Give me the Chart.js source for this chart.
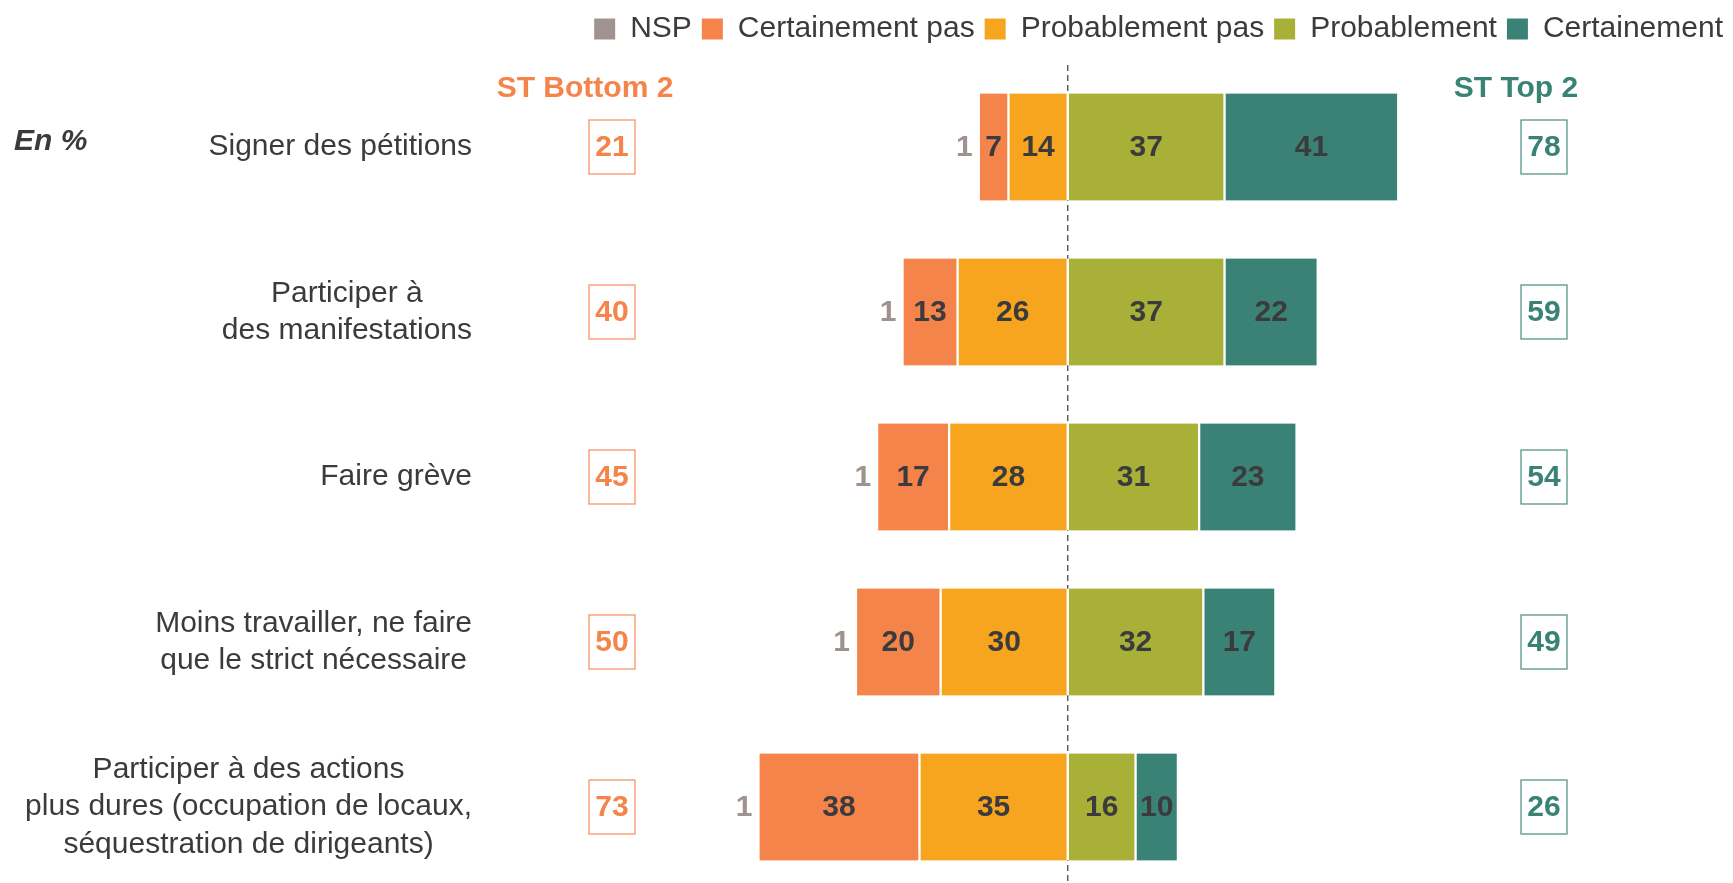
<!DOCTYPE html>
<html>
<head>
<meta charset="utf-8">
<script src="https://cdn.jsdelivr.net/npm/chart.js@4.4.1/dist/chart.umd.min.js"></script>
<style>
	body { margin: 0; background: #fff; }
	#conteneur { width: 1733px; height: 883px; }
</style>
</head>
<body>
<div id="conteneur"><canvas id="graphiqueActions"></canvas></div>
<script>
var actions = [
	['Signer des pétitions'],
	['Participer à', 'des manifestations'],
	['Faire grève'],
	['Moins travailler, ne faire', 'que le strict nécessaire'],
	['Participer à des actions', 'plus dures (occupation de locaux,', 'séquestration de dirigeants)']
];
var nsp = [1, 1, 1, 1, 1];
var certainementPas = [7, 13, 17, 20, 38];
var probablementPas = [14, 26, 28, 30, 35];
var probablement = [37, 37, 31, 32, 16];
var certainement = [41, 22, 23, 17, 10];
var bottom2 = [21, 40, 45, 50, 73];
var top2 = [78, 59, 54, 49, 26];

var ORANGE = '#f5844a';
var JAUNE = '#f7a51e';
var VERT = '#a8b038';
var SARCELLE = '#3a8275';
var GRIS = '#a0938f';
var TEXTE = '#3b3b3d';

// barres flottantes : les "pas" partent de zero vers la gauche
var segments = {
	certainementPas: certainementPas.map(function(v, i) { return [-(v + probablementPas[i]), -probablementPas[i]]; }),
	probablementPas: probablementPas.map(function(v) { return [-v, 0]; }),
	probablement: probablement.map(function(v) { return [0, v]; }),
	certainement: certainement.map(function(v, i) { return [probablement[i], probablement[i] + v]; })
};

var etiquettes = {
	id: 'etiquettes',
	beforeDatasetsDraw: function(chart) {
		var ctx = chart.ctx;
		var x0 = chart.scales.x.getPixelForValue(0);
		ctx.save();
		ctx.strokeStyle = '#3a3a3a';
		ctx.lineWidth = 1.2;
		ctx.setLineDash([6, 4]);
		ctx.beginPath();
		ctx.moveTo(x0, chart.chartArea.top - 82);
		ctx.lineTo(x0, chart.height);
		ctx.stroke();
		ctx.restore();
	},
	afterDatasetsDraw: function(chart) {
		var ctx = chart.ctx;
		var x = chart.scales.x;
		var y = chart.scales.y;
		ctx.save();
		ctx.textBaseline = 'middle';

		// libelles des actions, bloc aligne a droite, lignes centrees
		ctx.font = '30px "Liberation Sans", Arial, sans-serif';
		ctx.fillStyle = TEXTE;
		ctx.textAlign = 'center';
		actions.forEach(function(lignes, i) {
			var largeur = Math.max.apply(null, lignes.map(function(l) { return ctx.measureText(l).width; }));
			var cx = 472 - largeur / 2;
			var cy = y.getPixelForValue(i);
			lignes.forEach(function(l, j) {
				ctx.fillText(l, cx, cy + (j - (lignes.length - 1) / 2) * 37.5);
			});
		});

		ctx.font = 'italic bold 30px "Liberation Sans", Arial, sans-serif';
		ctx.textAlign = 'left';
		ctx.fillText('En %', 14, y.getPixelForValue(0) - 5);

		// valeurs dans les barres
		ctx.font = 'bold 30px "Liberation Sans", Arial, sans-serif';
		ctx.textAlign = 'center';
		chart.data.datasets.forEach(function(ds, d) {
			if (d === 0) return;
			chart.getDatasetMeta(d).data.forEach(function(barre, i) {
				ctx.fillStyle = TEXTE;
				ctx.fillText(ds.valeurs[i], (barre.x + barre.base) / 2, barre.y + 1);
			});
		});

		// NSP a gauche des barres
		ctx.fillStyle = GRIS;
		ctx.textAlign = 'right';
		nsp.forEach(function(v, i) {
			var gauche = x.getPixelForValue(-(certainementPas[i] + probablementPas[i]));
			ctx.fillText(v, gauche - 6, y.getPixelForValue(i) + 1);
		});

		// totaux ST Bottom 2 / ST Top 2
		ctx.textAlign = 'center';
		ctx.font = 'bold 30px "Liberation Sans", Arial, sans-serif';
		ctx.fillStyle = ORANGE;
		ctx.fillText('ST Bottom 2', 585, 89);
		ctx.fillStyle = SARCELLE;
		ctx.fillText('ST Top 2', 1516, 89);

		ctx.lineWidth = 1.3;
		[[bottom2, 612, ORANGE], [top2, 1544, SARCELLE]].forEach(function(col) {
			col[0].forEach(function(v, i) {
				var cy = y.getPixelForValue(i);
				ctx.strokeStyle = col[2];
				ctx.globalAlpha = 0.85;
				ctx.strokeRect(col[1] - 23, cy - 27, 46, 54);
				ctx.globalAlpha = 1;
				ctx.fillStyle = col[2];
				ctx.fillText(v, col[1], cy + 1);
			});
		});
		ctx.restore();
	}
};

function jeu(label, couleur, donnees, valeurs) {
	return {
		label: label,
		data: donnees,
		valeurs: valeurs,
		backgroundColor: couleur,
		borderColor: '#fff',
		borderWidth: { left: 1.5, right: 1.5, top: 0, bottom: 0 },
		borderSkipped: false,
		grouped: false,
		barThickness: 107,
		clip: false
	};
}

var graphique = new Chart(document.getElementById('graphiqueActions'), {
	type: 'bar',
	data: {
		labels: actions,
		datasets: [
			jeu('NSP', GRIS, nsp.map(function() { return null; }), nsp),
			jeu('Certainement pas', ORANGE, segments.certainementPas, certainementPas),
			jeu('Probablement pas', JAUNE, segments.probablementPas, probablementPas),
			jeu('Probablement', VERT, segments.probablement, probablement),
			jeu('Certainement', SARCELLE, segments.certainement, certainement)
		]
	},
	options: {
		indexAxis: 'y',
		responsive: true,
		maintainAspectRatio: false,
		animation: false,
		layout: { padding: { top: 4, bottom: 76, left: 0, right: 0 } },
		scales: {
			x: {
				position: 'top',
				min: -252,
				max: 157,
				ticks: { display: false },
				grid: { display: false },
				border: { display: false },
				afterFit: function(scale) { scale.height = 93; }
			},
			y: {
				display: false,
				offset: false
			}
		},
		plugins: {
			legend: {
				position: 'top',
				align: 'end',
				labels: {
					boxWidth: 21,
					boxHeight: 21,
					padding: 10,
					color: TEXTE,
					font: { family: '"Liberation Sans", Arial, sans-serif', size: 30 },
					generateLabels: function(chart) {
						return chart.data.datasets.map(function(ds, i) {
							return {
								text: ds.label,
								fillStyle: ds.backgroundColor,
								strokeStyle: ds.backgroundColor,
								lineWidth: 0,
								fontColor: TEXTE,
								datasetIndex: i
							};
						});
					}
				}
			},
			tooltip: { enabled: false }
		}
	},
	plugins: [etiquettes]
});
</script>
</body>
</html>
